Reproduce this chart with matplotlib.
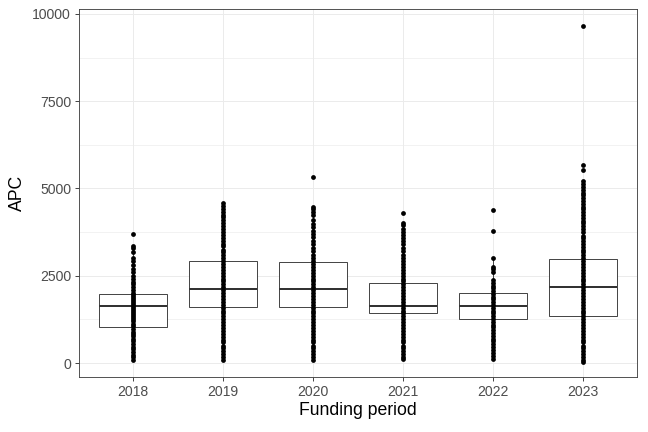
import matplotlib
matplotlib.use("Agg")
import matplotlib.pyplot as plt
from matplotlib.ticker import MultipleLocator

plt.rcParams['font.family'] = ['Liberation Sans', 'DejaVu Sans']

years = ["2018", "2019", "2020", "2021", "2022", "2023"]

apc_2018 = [3700, 3350, 3290, 3180, 3000, 2920, 2800, 2700, 2620, 2500, 2420, 2330, 2250,
            2180, 2100, 2020, 1960, 1900, 1840, 1780, 1720, 1660, 1600, 1550, 1490, 1430,
            1370, 1310, 1250, 1190, 1130, 1050, 980, 900, 830, 760, 690, 620, 540, 460,
            390, 310, 240, 160, 80]
apc_2019 = [4590, 4500, 4420, 4340, 4250, 4170, 4090, 4000, 3920, 3840, 3750, 3670, 3590,
            3500, 3420, 3340, 3250, 3170, 3090, 3000, 2920, 2840, 2750, 2670, 2590, 2500,
            2420, 2340, 2250, 2170, 2090, 2000, 1920, 1840, 1750, 1670, 1590, 1500, 1420,
            1340, 1250, 1170, 1090, 1000, 920, 840, 750, 670, 590, 500, 420, 340, 250,
            170, 90]
apc_2020 = [5330, 4480, 4400, 4320, 4230, 4100, 3980, 3900, 3780, 3700, 3600, 3500, 3400,
            3300, 3200, 3100, 3000, 2920, 2840, 2750, 2670, 2590, 2500, 2420, 2340, 2250,
            2170, 2090, 2000, 1920, 1840, 1750, 1670, 1590, 1500, 1420, 1340, 1250, 1170,
            1090, 1000, 920, 840, 750, 670, 590, 500, 420, 340, 250, 170, 80]
apc_2021 = [4300, 4020, 3940, 3850, 3760, 3670, 3580, 3490, 3400, 3300, 3200, 3100, 3000,
            2920, 2840, 2750, 2670, 2590, 2500, 2420, 2340, 2250, 2170, 2090, 2000, 1920,
            1840, 1750, 1670, 1590, 1500, 1420, 1340, 1250, 1170, 1090, 1000, 920, 840,
            750, 670, 590, 500, 420, 340, 250, 180, 110]
apc_2022 = [4380, 3770, 3000, 2760, 2690, 2620, 2380, 2300, 2220, 2140, 2060, 1980, 1900,
            1820, 1740, 1660, 1580, 1500, 1420, 1340, 1260, 1180, 1100, 1020, 940, 860,
            780, 700, 620, 540, 460, 370, 300, 200, 105]
apc_2023 = [9660, 5670, 5530, 5200, 5120, 5040, 4960, 4880, 4800, 4720, 4640, 4560, 4480,
            4400, 4320, 4240, 4160, 4080, 4000, 3920, 3840, 3760, 3650, 3570, 3490, 3410,
            3330, 3250, 3170, 3090, 3000, 2920, 2840, 2750, 2670, 2590, 2500, 2420, 2340,
            2250, 2170, 2090, 2000, 1920, 1840, 1750, 1670, 1590, 1500, 1420, 1340, 1250,
            1170, 1090, 1000, 920, 840, 750, 670, 590, 500, 420, 340, 250, 170, 90, 20]
points = [apc_2018, apc_2019, apc_2020, apc_2021, apc_2022, apc_2023]

q1 = [1030, 1605, 1605, 1430, 1260, 1345]
median = [1630, 2120, 2120, 1630, 1630, 2175]
q3 = [1975, 2920, 2895, 2290, 2005, 2980]
whisker_lo = [80, 90, 80, 110, 200, 20]
whisker_hi = [3350, 4590, 4480, 3580, 3000, 5200]

fig = plt.figure(figsize=(9, 6), dpi=72)
ax = fig.add_axes([79/648, 1 - 377/432, (637 - 79)/648, (377 - 9)/432])

positions = list(range(1, len(years) + 1))
stats = []
for i, y in enumerate(years):
    stats.append(dict(label=y, q1=q1[i], med=median[i], q3=q3[i],
                      whislo=whisker_lo[i], whishi=whisker_hi[i], fliers=[]))

edge = '#333333'
ax.bxp(stats, positions=positions, widths=0.75, showfliers=False, showcaps=False,
       patch_artist=True,
       boxprops=dict(facecolor='white', edgecolor=edge, linewidth=0.9),
       medianprops=dict(color=edge, linewidth=2.0),
       whiskerprops=dict(color=edge, linewidth=0.9), zorder=2)

for pos, vals in zip(positions, points):
    ax.plot([pos] * len(vals), vals, 'o', color='black', markersize=4.8,
            markeredgewidth=0, zorder=3)

ax.set_xlim(0.4, 6.6)
ax.set_ylim(-400, 10140)
ax.set_xticks(positions)
ax.set_xticklabels(years)
ax.yaxis.set_major_locator(MultipleLocator(2500))
ax.yaxis.set_minor_locator(MultipleLocator(1250))
ax.tick_params(axis='y', which='minor', length=0)
ax.tick_params(which='major', length=4.4, width=0.9, color='#333333',
               labelsize=14, labelcolor='#4D4D4D', pad=3.5)

ax.grid(which='major', color='#EBEBEB', linewidth=1.0, zorder=0)
ax.grid(which='minor', axis='y', color='#EBEBEB', linewidth=0.6, zorder=0)
ax.set_axisbelow(True)

for s in ax.spines.values():
    s.set_color('#444444')
    s.set_linewidth(0.9)

ax.set_xlabel('Funding period', fontsize=17.6, labelpad=3)
ax.set_ylabel('APC', fontsize=17.6, labelpad=6)

fig.savefig('out.png', dpi=72)
